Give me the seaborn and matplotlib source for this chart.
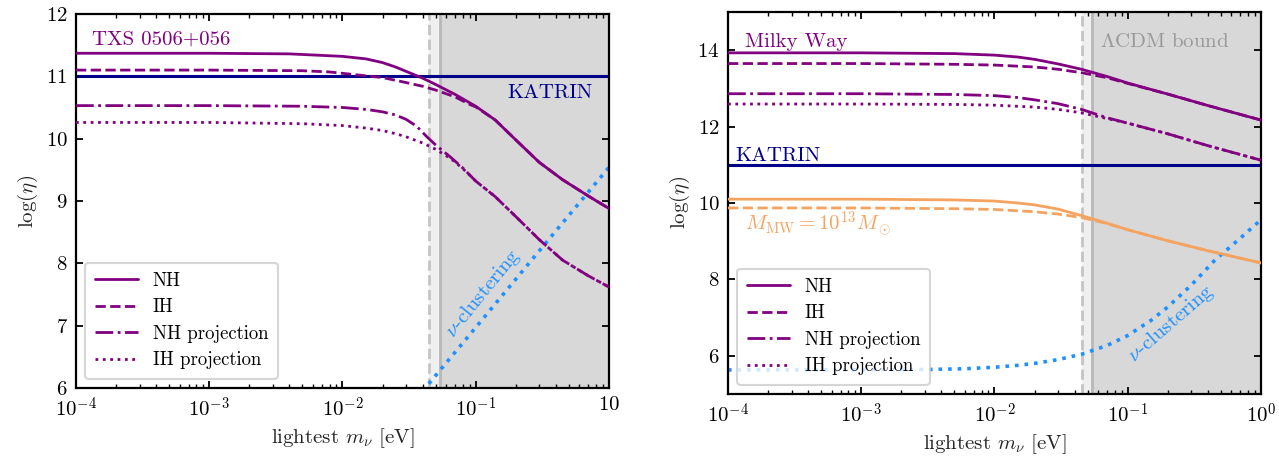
import numpy as np
import pandas as pd
import matplotlib
matplotlib.use('Agg')
import matplotlib.pyplot as plt
import seaborn as sns
from matplotlib.ticker import FixedLocator, FixedFormatter, LogLocator, NullFormatter, NullLocator

# ---- left panel: TXS 0506+056 ----
m_nh_l = [1e-4, 1e-3, 4e-3, 0.01, 0.015, 0.02, 0.025, 0.03, 0.04, 0.05, 0.07, 0.1,
          0.14, 0.2, 0.3, 0.45, 0.7, 1.0]
nh_l = [11.37, 11.37, 11.36, 11.32, 11.28, 11.22, 11.15, 11.08, 10.97, 10.87, 10.71, 10.52,
        10.30, 9.98, 9.62, 9.34, 9.08, 8.88]
m_ih_l = [1e-4, 1e-3, 5e-3, 0.008, 0.012, 0.02, 0.03, 0.04, 0.05, 0.07, 0.09, 0.1,
          0.14, 0.2, 0.3, 0.45, 0.7, 1.0]
ih_l = [11.10, 11.10, 11.09, 11.07, 11.03, 10.98, 10.90, 10.84, 10.78, 10.67, 10.55, 10.51,
        10.30, 9.98, 9.62, 9.34, 9.08, 8.88]
m_nhp_l = [1e-4, 1e-3, 5e-3, 0.01, 0.015, 0.02, 0.025, 0.03, 0.036, 0.043, 0.05, 0.065,
           0.08, 0.1, 0.14, 0.2, 0.3, 0.45, 0.7, 1.0]
nhp_l = [10.53, 10.53, 10.52, 10.50, 10.47, 10.43, 10.38, 10.31, 10.20, 10.03, 9.90, 9.70,
         9.53, 9.32, 9.07, 8.75, 8.38, 8.05, 7.80, 7.62]
m_ihp_l = [1e-4, 1e-3, 5e-3, 0.01, 0.015, 0.02, 0.025, 0.03, 0.04, 0.05, 0.065,
           0.08, 0.1, 0.14, 0.2, 0.3, 0.45, 0.7, 1.0]
ihp_l = [10.26, 10.26, 10.24, 10.21, 10.17, 10.13, 10.08, 10.03, 9.93, 9.83, 9.68,
         9.52, 9.32, 9.07, 8.75, 8.38, 8.05, 7.80, 7.62]
m_clus_l = [0.040, 0.1, 0.3, 1.0]
clus_l = [5.95, 6.97, 8.20, 9.54]
katrin = 11.0

# ---- right panel: Milky Way ----
m_nh_r = [1e-4, 1e-3, 5e-3, 0.01, 0.015, 0.02, 0.03, 0.045, 0.07, 0.1, 0.2, 0.4, 1.0]
nh_r = [13.93, 13.93, 13.91, 13.87, 13.82, 13.76, 13.64, 13.50, 13.31, 13.14, 12.85, 12.55, 12.17]
m_ih_r = [1e-4, 1e-3, 5e-3, 0.01, 0.02, 0.03, 0.045, 0.07, 0.1, 0.2, 0.4, 1.0]
ih_r = [13.65, 13.65, 13.63, 13.61, 13.56, 13.50, 13.41, 13.28, 13.13, 12.85, 12.55, 12.17]
m_nhp_r = [1e-4, 1e-3, 5e-3, 0.01, 0.015, 0.02, 0.03, 0.045, 0.07, 0.1, 0.2, 0.4, 1.0]
nhp_r = [12.86, 12.86, 12.84, 12.81, 12.76, 12.70, 12.60, 12.45, 12.23, 12.09, 11.81, 11.50, 11.12]
m_ihp_r = [1e-4, 1e-3, 5e-3, 0.01, 0.02, 0.03, 0.045, 0.07, 0.1, 0.2, 0.4, 1.0]
ihp_r = [12.59, 12.59, 12.58, 12.56, 12.51, 12.45, 12.36, 12.21, 12.09, 11.81, 11.50, 11.12]
m_nh_o = [1e-4, 1e-3, 5e-3, 0.01, 0.015, 0.02, 0.03, 0.045, 0.07, 0.1, 0.2, 0.4, 1.0]
nh_o = [10.10, 10.10, 10.08, 10.05, 10.00, 9.95, 9.84, 9.67, 9.47, 9.30, 9.01, 8.75, 8.43]
m_ih_o = [1e-4, 1e-3, 5e-3, 0.01, 0.02, 0.03, 0.045, 0.07, 0.1, 0.2, 0.4, 1.0]
ih_o = [9.87, 9.87, 9.85, 9.83, 9.77, 9.71, 9.62, 9.46, 9.30, 9.01, 8.75, 8.43]
m_clus_r = [1e-4, 1e-3, 3e-3, 6e-3, 0.01, 0.015, 0.02, 0.03, 0.045, 0.07, 0.1, 0.15,
            0.2, 0.3, 0.45, 0.7, 1.0]
clus_r = [5.63, 5.63, 5.64, 5.66, 5.70, 5.75, 5.80, 5.90, 6.04, 6.27, 6.53, 6.93,
          7.28, 7.85, 8.50, 9.08, 9.56]

lcdm_dashed = 0.045
lcdm_solid = 0.054

xtick_vals = [1e-4, 1e-3, 1e-2, 1e-1, 1.0]
xtick_left = [r'$10^{-4}$', r'$10^{-3}$', r'$10^{-2}$', r'$10^{-1}$', r'$10$']
xtick_right = [r'$10^{-4}$', r'$10^{-3}$', r'$10^{-2}$', r'$10^{-1}$', r'$10^{0}$']

sns.set_style('ticks')
plt.rcParams.update({
    'font.family': 'serif',
    'font.serif': ['cmr10', 'DejaVu Serif'],
    'mathtext.fontset': 'cm',
    'axes.formatter.use_mathtext': True,
    'axes.unicode_minus': False,
    'font.size': 15,
    'axes.linewidth': 1.6,
    'xtick.direction': 'in', 'ytick.direction': 'in',
    'xtick.top': True, 'ytick.right': True,
    'xtick.major.size': 5, 'ytick.major.size': 5,
    'xtick.minor.size': 3, 'ytick.minor.size': 3,
    'xtick.major.width': 1.3, 'ytick.major.width': 1.3,
    'xtick.minor.width': 1.0,
    'xtick.color': 'black', 'ytick.color': 'black',
    'axes.edgecolor': 'black',
})

PURPLE = '#800080'
NAVY = '#00008b'
ORANGE = '#f4a460'
BLUE = '#1e90ff'
FS_TXT = 15

fig = plt.figure(figsize=(12.79, 4.57), dpi=100)
ax1 = fig.add_axes([0.0594, 0.151, 0.4167, 0.8184])
ax2 = fig.add_axes([0.5692, 0.1379, 0.4167, 0.8359])


def curve(ax, m, v, color, ls, lw=2.0, label=None, z=3):
    d = pd.DataFrame({'m': m, 'v': v})
    sns.lineplot(data=d, x='m', y='v', ax=ax, color=color, linestyle=ls,
                 linewidth=lw, label=label, zorder=z, legend=False)


def shade(ax):
    ax.axvspan(lcdm_dashed, 10, color='gray', alpha=0.12, lw=0, zorder=0)
    ax.axvspan(lcdm_solid, 10, color='gray', alpha=0.2, lw=0, zorder=0)
    ax.axvline(lcdm_dashed, color='#c4c4c4', ls='--', lw=2, zorder=1)
    ax.axvline(lcdm_solid, color='#b8b8b8', ls='-', lw=2, zorder=1)


for ax in (ax1, ax2):
    ax.set_xscale('log')
    shade(ax)

# left panel
curve(ax1, m_clus_l, clus_l, BLUE, ':', lw=2.6, z=2)
ax1.axhline(katrin, color=NAVY, lw=2.2, zorder=2)
curve(ax1, m_nh_l, nh_l, PURPLE, '-', label='NH')
curve(ax1, m_ih_l, ih_l, PURPLE, '--', label='IH')
curve(ax1, m_nhp_l, nhp_l, PURPLE, '-.', label='NH projection')
curve(ax1, m_ihp_l, ihp_l, PURPLE, ':', label='IH projection')
ax1.text(1.33e-4, 11.51, 'TXS 0506+056', color=PURPLE, fontsize=FS_TXT, va='baseline')
ax1.text(0.75, 10.65, 'KATRIN', color=NAVY, fontsize=FS_TXT, va='baseline', ha='right')
ax1.text(0.114, 7.52, r'$\nu$-clustering', color=BLUE, fontsize=FS_TXT,
         rotation=51, ha='center', va='center', rotation_mode='anchor')
ax1.set_ylim(6, 12)
ax1.set_yticks([6, 7, 8, 9, 10, 11, 12])

# right panel
curve(ax2, m_clus_r, clus_r, BLUE, ':', lw=2.6, z=2)
ax2.axhline(katrin, color=NAVY, lw=2.2, zorder=2)
curve(ax2, m_nh_o, nh_o, ORANGE, '-')
curve(ax2, m_ih_o, ih_o, ORANGE, '--')
curve(ax2, m_nh_r, nh_r, PURPLE, '-', label='NH')
curve(ax2, m_ih_r, ih_r, PURPLE, '--', label='IH')
curve(ax2, m_nhp_r, nhp_r, PURPLE, '-.', label='NH projection')
curve(ax2, m_ihp_r, ihp_r, PURPLE, ':', label='IH projection')
ax2.text(1.35e-4, 14.08, 'Milky Way', color=PURPLE, fontsize=FS_TXT, va='baseline')
ax2.text(1.13e-4, 11.09, 'KATRIN', color=NAVY, fontsize=FS_TXT, va='baseline')
ax2.text(0.062, 14.08, r'$\Lambda$CDM bound', color='#999999', fontsize=FS_TXT, va='baseline')
ax2.text(1.35e-4, 9.28, r'$M_{\rm MW}=10^{13}M_\odot$', color=ORANGE, fontsize=FS_TXT,
         va='baseline')
ax2.text(0.21, 6.85, r'$\nu$-clustering', color=BLUE, fontsize=FS_TXT,
         rotation=41, ha='center', va='center', rotation_mode='anchor')
ax2.set_ylim(5, 15)
ax2.set_yticks([6, 8, 10, 12, 14])

for ax, labs in ((ax1, xtick_left), (ax2, xtick_right)):
    ax.set_xlim(1e-4, 1.0)
    ax.xaxis.set_major_locator(FixedLocator(xtick_vals))
    ax.xaxis.set_major_formatter(FixedFormatter(labs))
    ax.xaxis.set_minor_locator(LogLocator(base=10, subs=np.arange(2, 10), numticks=20))
    ax.xaxis.set_minor_formatter(NullFormatter())
    ax.yaxis.set_minor_locator(NullLocator())
    ax.tick_params(axis='both', which='major', labelsize=15, pad=6)
    ax.set_xlabel(r'lightest $m_\nu$ [eV]', fontsize=15)
    ax.set_ylabel(r'$\log(\eta)$', fontsize=15)
    leg = ax.legend(loc='lower left', fontsize=13.5, handlelength=2.3,
                    frameon=True, fancybox=True, framealpha=0.8,
                    edgecolor='#cccccc', borderpad=0.5, labelspacing=0.45)
    leg.get_frame().set_linewidth(1.5)
    for t in leg.get_texts():
        t.set_color('black')

fig.savefig('out.png', dpi=100)
